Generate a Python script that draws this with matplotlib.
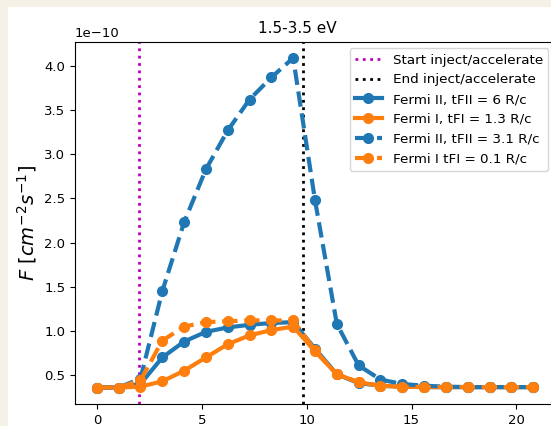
import matplotlib
matplotlib.use("Agg")
import matplotlib.pyplot as plt
from matplotlib.patches import Rectangle

# time since start (R/c) and flux in units of 1e-10 cm^-2 s^-1
t = [0, 1.04, 2.08, 3.12, 4.16, 5.2, 6.24, 7.28, 8.32, 9.36, 10.4,
     11.44, 12.48, 13.52, 14.56, 15.6, 16.64, 17.68, 18.72, 19.76, 20.8]

fii_6 = [0.36, 0.36, 0.40, 0.70, 0.88, 0.99, 1.04, 1.07, 1.09, 1.10, 0.80,
         0.51, 0.41, 0.38, 0.37, 0.365, 0.365, 0.365, 0.365, 0.365, 0.365]
fi_13 = [0.36, 0.36, 0.37, 0.43, 0.55, 0.70, 0.85, 0.95, 1.01, 1.05, 0.77,
         0.51, 0.42, 0.38, 0.37, 0.365, 0.365, 0.365, 0.365, 0.365, 0.365]
fii_31 = [0.36, 0.36, 0.46, 1.45, 2.23, 2.83, 3.27, 3.62, 3.87, 4.09, 2.48,
          1.08, 0.61, 0.45, 0.40, 0.38, 0.37, 0.365, 0.365, 0.365, 0.365]
fi_01 = [0.36, 0.36, 0.44, 0.89, 1.05, 1.10, 1.11, 1.12, 1.12, 1.12, 0.78,
         0.51, 0.42, 0.38, 0.37, 0.365, 0.365, 0.365, 0.365, 0.365, 0.365]

x_ticks = [0, 5, 10, 15, 20]

t_start = 2.0
t_end = 9.85

scale = 1e-10

fig = plt.figure(figsize=(5.51, 4.26), dpi=100, facecolor='#f5f1e6')
# white page area behind the axes
page = Rectangle((8/551, 0), 1, (426 - 7)/426, transform=fig.transFigure,
                 facecolor='white', edgecolor='none', zorder=-1)
fig.add_artist(page)
ax = fig.add_axes([75/551, 22/426, 480/551, 362.5/426])

ax.axvline(t_start, color='m', ls=':', lw=2, label='Start inject/accelerate')
ax.axvline(t_end, color='k', ls=':', lw=2, label='End inject/accelerate')

ax.plot(t, [v*scale for v in fii_6], '-o', color='tab:blue', lw=3, ms=7,
        label='Fermi II, tFII = 6 R/c')
ax.plot(t, [v*scale for v in fi_13], '-o', color='tab:orange', lw=3, ms=7,
        label='Fermi I, tFI = 1.3 R/c')
ax.plot(t, [v*scale for v in fii_31], '--o', color='tab:blue', lw=3, ms=7,
        label='Fermi II, tFII = 3.1 R/c')
ax.plot(t, [v*scale for v in fi_01], '--o', color='tab:orange', lw=3, ms=7,
        label='Fermi I tFI = 0.1 R/c')

# widen the axes box so its right side falls outside the saved image,
# keeping the same data-to-pixel mapping as the autoscaled limits
x0, x1 = ax.get_xlim()
ax.set_position([75/551, 22/426, 560/551, 362.5/426])
ax.set_xlim(x0, x0 + (x1 - x0)*560/480)
ax.set_xticks(x_ticks)

ax.set_ylabel(r'$F\ [cm^{-2}s^{-1}]$', fontsize=14)
ax.set_title('1.5-3.5 eV', fontsize=11, x=(297 - 75)/560)
ax.tick_params(labelsize=9.5)
ax.yaxis.get_offset_text().set_fontsize(9.5)
ax.legend(loc='upper right', fontsize=9.7,
          bbox_to_anchor=((75 + 480)/551, (426 - 41.5)/426),
          bbox_transform=fig.transFigure)

fig.savefig('out.png', dpi=100, facecolor=fig.get_facecolor())
